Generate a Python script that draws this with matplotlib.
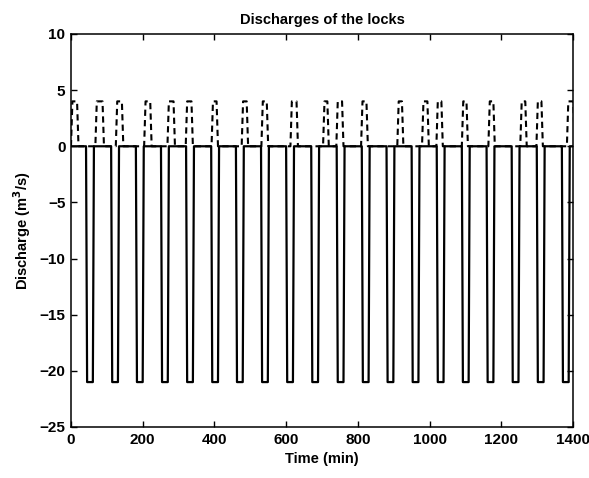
import matplotlib
matplotlib.use("Agg")
import matplotlib.pyplot as plt

plt.rcParams['font.family'] = ['Liberation Sans', 'DejaVu Sans']
plt.rcParams['font.weight'] = 'bold'

# centre times (min) of the big lock emptying pulses (solid line)
solid_centres = [53, 123, 192, 262, 332, 402, 471, 541, 611, 681,
                 752, 822, 891, 961, 1031, 1101, 1170, 1240, 1310, 1380]
solid_level = -21

# (start, end) times (min) of the filling pulses (dashed line)
dashed_pulses = [(0, 21), (68, 92), (125, 146), (204, 225), (269, 290),
                 (320, 340), (392, 410), (476, 494), (531, 550), (612, 633),
                 (703, 719), (740, 760), (809, 828), (910, 927), (979, 998),
                 (1019, 1037), (1090, 1107), (1164, 1182), (1253, 1271),
                 (1298, 1316), (1383, 1405)]
dashed_level = 4

t_end = 1400
xticks = [0, 200, 400, 600, 800, 1000, 1200, 1400]
yticks = [-25, -20, -15, -10, -5, 0, 5, 10]


def solid_series():
    t, q = [0], [0]
    for c in solid_centres:
        t += [c - 11, c - 8, c + 8, c + 11]
        q += [0, solid_level, solid_level, 0]
    t.append(t_end)
    q.append(0)
    return t, q


def dashed_series():
    t, q = [], []
    for s, e in dashed_pulses:
        t += [s, s + 4, e - 4, e]
        q += [0, dashed_level, dashed_level, 0]
    return t, q


fig = plt.figure(figsize=(5.89, 4.78), dpi=100)
ax = fig.add_axes([0.1205, 0.1067, 0.8523, 0.8222])

td, qd = dashed_series()
ax.plot(td, qd, color='black', linewidth=1.5, linestyle=(0, (3, 2)))
ts, qs = solid_series()
ax.plot(ts, qs, color='black', linewidth=1.6)

ax.set_xlim(0, t_end)
ax.set_ylim(-25, 10)
ax.set_xticks(xticks)
ax.set_yticks(yticks)
ax.tick_params(direction='in', length=4, width=1, top=True, right=True,
               labelsize=11, pad=4)
for lab in ax.get_xticklabels() + ax.get_yticklabels():
    lab.set_fontweight('bold')
for sp in ax.spines.values():
    sp.set_linewidth(1.1)

ax.set_title("Discharges of the locks", fontsize=10.5, fontweight='bold', pad=7)
ax.set_xlabel("Time (min)", fontsize=10.5, fontweight='bold', labelpad=4)
ax.set_ylabel("Discharge (m$^\\mathbf{3}$/s)", fontsize=10.5, fontweight='bold', labelpad=5)

fig.savefig("out.png", dpi=100)
